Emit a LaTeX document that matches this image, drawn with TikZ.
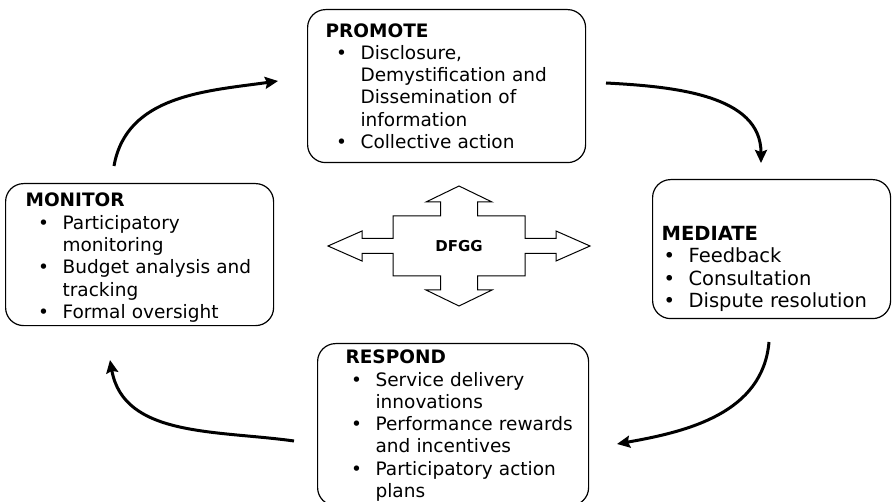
\documentclass[tikz,border=0pt]{standalone}
\usepackage{fontspec}
\setmainfont{DejaVu Sans}
\usetikzlibrary{arrows.meta}
\hyphenpenalty=10000
\exhyphenpenalty=10000
\newenvironment{points}[1]{\begin{list}{\textbullet}{%
  \setlength{\leftmargin}{#1}\setlength{\labelwidth}{12pt}%
  \setlength{\labelsep}{13.5pt}\setlength{\itemsep}{0pt}%
  \setlength{\parsep}{0pt}\setlength{\topsep}{0pt}%
  \setlength{\partopsep}{0pt}}}{\end{list}}

\begin{document}
\begin{tikzpicture}[x=1pt,y=1pt,
  box/.style={draw, line width=1.2pt, rounded corners=18pt, anchor=north west,
    align=left, font=\fontsize{18.5}{22.3}\selectfont},
  loop/.style={line width=3pt, -{Stealth[length=13pt,width=12pt,inset=2pt]}}]
\useasboundingbox (0,0) rectangle (895,-502);

\node [box, minimum width=278pt, minimum height=153pt, inner xsep=18pt, text width=242pt] (promote) at (307,-9)
  {\rule{0pt}{13pt}\textbf{PROMOTE}
   \begin{points}{35pt}
   \item Disclosure,\\ Demystification~and\\ Dissemination~of\\ information
   \item Collective~action
   \end{points}};
\node [box, minimum width=268pt, minimum height=138pt, inner xsep=10pt, text width=248pt] (monitor) at (5,-183)
  {\rule{0pt}{20pt}\hspace*{10pt}\textbf{MONITOR}
   \begin{points}{47pt}
   \item Participatory\\ monitoring
   \item Budget~analysis~and\\ tracking
   \item Formal~oversight
   \end{points}};
\node [box, minimum width=238pt, minimum height=139pt, inner xsep=9pt, text width=220pt,
  font=\fontsize{19.5}{22.3}\selectfont] (mediate) at (652,-179)
  {\rule{0pt}{54pt}\textbf{MEDIATE}
   \begin{points}{27pt}
   \item Feedback
   \item Consultation
   \item Dispute~resolution
   \end{points}};
\node [box, minimum width=271pt, minimum height=162pt, inner xsep=8pt, text width=255pt] (respond) at (317,-343)
  {\rule{0pt}{16pt}\hspace*{20pt}\textbf{RESPOND}
   \begin{points}{50pt}
   \item Service~delivery\\ innovations
   \item Performance~rewards\\ and~incentives
   \item Participatory~action\\ plans
   \end{points}};

% centre cross
\node [font=\fontsize{15}{18}\selectfont\bfseries] (dfgg) at (459,-246) {DFGG};
\draw [line width=1pt, shift={(dfgg.center)}] (0,60) -- (33,44) -- (18.5,44) -- (18.5,30) -- (66,30) -- (66,7.5)
  -- (97,7.5) -- (97,15) -- (131,0) -- (97,-15) -- (97,-7.5) -- (66,-7.5) -- (66,-30) -- (18.5,-30)
  -- (18.5,-44) -- (33,-44) -- (0,-60) -- (-33,-44) -- (-18.5,-44) -- (-18.5,-30) -- (-66,-30)
  -- (-66,-7.5) -- (-97,-7.5) -- (-97,-15) -- (-131,0) -- (-97,15) -- (-97,7.5) -- (-66,7.5)
  -- (-66,30) -- (-18.5,30) -- (-18.5,44) -- (-33,44) -- cycle;

% cycle arrows
\coordinate (mon-out) at (114,-166);
\coordinate (pro-in) at (278,-81);
\coordinate (pro-out) at (606,-83);
\coordinate (med-in) at (761,-163);
\coordinate (med-out) at (769,-342);
\coordinate (res-in) at (617,-444);
\coordinate (res-out) at (294,-441);
\coordinate (mon-in) at (110,-360);
\draw [loop] (mon-out) to [out=80, in=188] (pro-in);
\draw [loop] (pro-out) to [out=-3, in=90] (med-in);
\draw [loop] (med-out) to [out=-95, in=10] (res-in);
\draw [loop] (res-out) to [out=172, in=-80] (mon-in);
\end{tikzpicture}
\end{document}
